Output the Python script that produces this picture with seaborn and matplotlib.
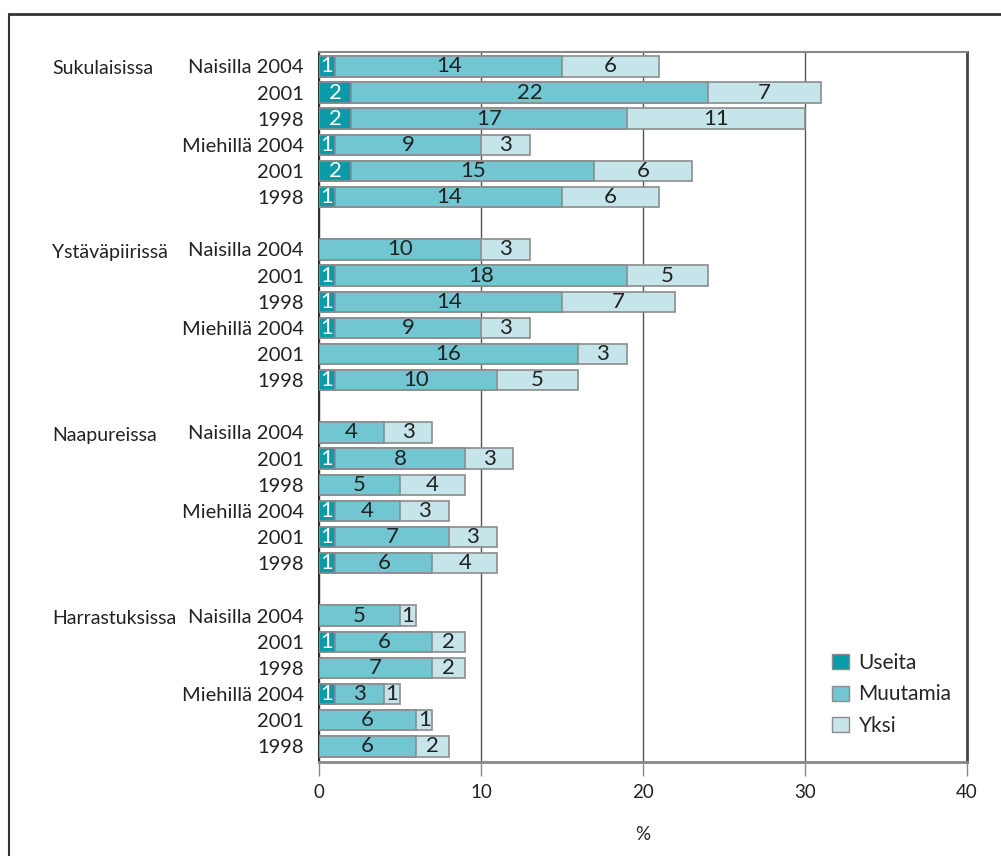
import numpy as np
import pandas as pd
import matplotlib.pyplot as plt
import matplotlib.transforms as mtransforms
import seaborn as sns
from matplotlib.lines import Line2D
from matplotlib.patches import Patch

# Data
groups = ["Sukulaisissa", "Ystäväpiirissä", "Naapureissa", "Harrastuksissa"]
row_labels = ["Naisilla 2004", "2001", "1998", "Miehillä 2004", "2001", "1998"]

useita = [1, 2, 2, 1, 2, 1,
          0, 1, 1, 1, 0, 1,
          0, 1, 0, 1, 1, 1,
          0, 1, 0, 1, 0, 0]
muutamia = [14, 22, 17, 9, 15, 14,
            10, 18, 14, 9, 16, 10,
            4, 8, 5, 4, 7, 6,
            5, 6, 7, 3, 6, 6]
yksi = [6, 7, 11, 3, 6, 6,
        3, 5, 7, 3, 3, 5,
        3, 3, 4, 3, 3, 4,
        1, 2, 2, 1, 1, 2]

series_names = ["Useita", "Muutamia", "Yksi"]
colors = ["#0b9aa8", "#72c6d1", "#c6e5eb"]
edge = "#8c8c8c"

sns.set_theme(style="white")
plt.rcParams["font.family"] = ["Lato", "DejaVu Sans"]

# row positions: six bars per group, one empty slot between groups
pos = [g * 7 + i for g in range(len(groups)) for i in range(6)]
df = pd.DataFrame({"pos": pos, "useita": useita, "muutamia": muutamia, "yksi": yksi})
df["c1"] = df["useita"]
df["c2"] = df["useita"] + df["muutamia"]
df["c3"] = df["c2"] + df["yksi"]

fig = plt.figure(figsize=(10.01, 8.56), dpi=100)
ax = fig.add_axes([319 / 1001, 1 - 762 / 856, (967 - 319) / 1001, (762 - 52) / 856])

# stacked bars drawn as cumulative totals, widest first
bar_kw = dict(orient="h", native_scale=True, edgecolor=edge, linewidth=1.2,
              width=0.78, saturation=1, ax=ax)
sns.barplot(data=df, x="c3", y="pos", color=colors[2], zorder=2, **bar_kw)
sns.barplot(data=df, x="c2", y="pos", color=colors[1], zorder=3, **bar_kw)
sns.barplot(data=df[df["c1"] > 0], x="c1", y="pos", color=colors[0], zorder=4, **bar_kw)

fs = 16
for _, r in df.iterrows():
    if r["useita"] > 0:
        ax.text(r["useita"] / 2, r["pos"], str(int(r["useita"])), ha="center", va="center",
                color="white", fontsize=fs, zorder=5)
    ax.text(r["c1"] + r["muutamia"] / 2, r["pos"], str(int(r["muutamia"])), ha="center",
            va="center", color="#222222", fontsize=fs, zorder=5)
    ax.text(r["c2"] + r["yksi"] / 2, r["pos"], str(int(r["yksi"])), ha="center",
            va="center", color="#222222", fontsize=fs, zorder=5)

ax.set_xlim(0, 40)
ax.set_ylim(26.6, -0.55)
ax.set_xticks([0, 10, 20, 30, 40])
ax.set_xticklabels(["0", "10", "20", "30", "40"], fontsize=13.5, color="#222222")
ax.xaxis.grid(True, color="#555555", linewidth=1.0, zorder=0)
ax.set_axisbelow(True)
ax.tick_params(axis="x", bottom=True, length=10, width=1, color="#888888", pad=6)
ax.set_yticks(pos)
ax.set_yticklabels(row_labels * len(groups), fontsize=14.5, color="#222222")
ax.tick_params(axis="y", left=False, pad=5)
ax.set_xlabel("%", fontsize=13.5, color="#222222", labelpad=18)
ax.set_ylabel("")

for side, col, lw in [("top", "#888888", 1.5), ("bottom", "#888888", 2.0),
                      ("left", "#333333", 1.5), ("right", "#444444", 2.0)]:
    ax.spines[side].set_visible(True)
    ax.spines[side].set_color(col)
    ax.spines[side].set_linewidth(lw)

# group names at the left
trans = mtransforms.blended_transform_factory(fig.transFigure, ax.transData)
for g, name in enumerate(groups):
    ax.text(52 / 1001, g * 7 + 0.1, name, fontsize=14, color="#222222", ha="left",
            va="center", transform=trans)

handles = [Patch(facecolor=c, edgecolor=edge, linewidth=1) for c in colors]
ax.legend(handles, series_names, loc="upper left", bbox_to_anchor=(0.762, 0.18),
          frameon=False, fontsize=15, handlelength=0.85, handleheight=0.75,
          labelspacing=0.55, handletextpad=0.45)

# frame of the figure
fig.add_artist(Line2D([9 / 1001, 9 / 1001], [0, 1 - 14 / 856], color="#333333", lw=1.5))
fig.add_artist(Line2D([9 / 1001, 1], [1 - 14 / 856, 1 - 14 / 856], color="#333333", lw=2))

fig.savefig("out.png", dpi=100)
